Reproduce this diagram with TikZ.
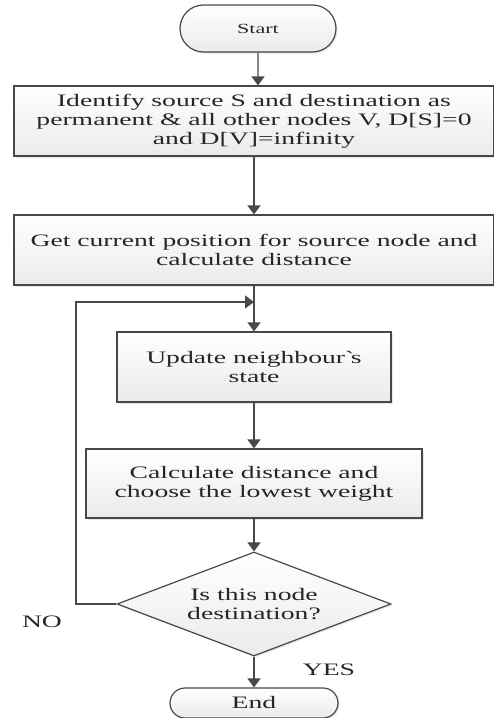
\documentclass[tikz,border=0pt]{standalone}
\usepackage{fontspec}
\setmainfont[FakeStretch=1.58]{Liberation Serif}
\usetikzlibrary{shapes,arrows.meta,positioning,shadows}

\definecolor{linegray}{HTML}{484848}

\begin{document}
\begin{tikzpicture}[x=1pt,y=-1pt]
	\tikzstyle{every node}=[font=\fontsize{17.5}{18.8}\selectfont, text=black!85]
	\tikzstyle{boxshade}=[draw=linegray, line width=1.2pt, top color=white, bottom color=gray!16,
	drop shadow={shadow xshift=1.5pt, shadow yshift=-1.5pt, opacity=0.2, fill=gray}]
	\tikzstyle{process}=[boxshade, rectangle, inner sep=0pt, align=center]
	\tikzstyle{terminal}=[boxshade, rounded rectangle, inner sep=0pt]
	\tikzstyle{decision}=[boxshade, diamond, aspect=2.63, inner sep=0pt, align=center,
	minimum width=274pt, minimum height=104pt]
	\tikzstyle{flowline}=[draw=linegray, line width=1.2pt, -{Triangle[width=13pt,length=9pt]}]
	\tikzstyle{plainline}=[draw=linegray, line width=1.2pt]

	\useasboundingbox (0,0) rectangle (494,718); % keep the page the size of the picture

	% the boxes, placed at coordinates going down the page
	\node[terminal, minimum width=156pt, minimum height=47pt,
	font=\fontsize{14}{16}\selectfont] (start) at (258,28.5) {Start};
	\node[process, minimum width=480pt, minimum height=70pt] (identify) at (254,121)
	{Identify source S and destination as\\permanent \& all other nodes V, D[S]=0\\and D[V]=infinity};
	\node[process, minimum width=480pt, minimum height=70pt] (position) at (254,250)
	{Get current position for source node and\\calculate distance};
	\node[process, minimum width=274pt, minimum height=70pt] (update) at (254,367)
	{Update neighbour\textasciigrave s\\state};
	\node[process, minimum width=336pt, minimum height=69pt] (lowest) at (254,483.5)
	{Calculate distance and\\choose the lowest weight};
	\node[decision] (dest) at (254,604) {Is this node\\destination?};
	\node[terminal, minimum width=168pt, minimum height=30pt] (end) at (254,703) {End};

	% where the loop comes back in
	\coordinate (join) at (254,302);
	\coordinate (loopcorner) at (76,302);

	% labels of the two ways out of the decision
	\node (no) at (42,622) {NO};
	\node (yes) at (329,670) {YES};

	% the connectors
	\draw[flowline] (start) -- (start |- identify.north);
	\draw[flowline] (identify) -- (position);
	\draw[plainline] (position) -- (join);
	\draw[flowline] (join) -- (update);
	\draw[flowline] (update) -- (lowest);
	\draw[flowline] (lowest) -- (dest);
	\draw[flowline] (dest) -- (end);
	\draw[flowline] (dest.west) -- (dest.west -| loopcorner) -- (loopcorner) -- (join);
\end{tikzpicture}
\end{document}
